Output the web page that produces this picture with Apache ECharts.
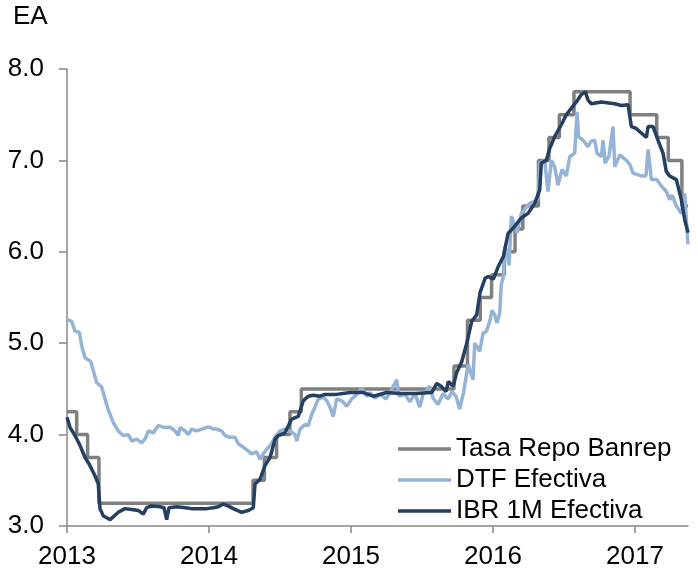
<!DOCTYPE html>
<html>
<head>
<meta charset="utf-8">
<script src="https://cdn.jsdelivr.net/npm/echarts@6/dist/echarts.min.js"></script>
<style>
html,body{margin:0;padding:0;background:#fff;}
#c{width:698px;height:570px;}
</style>
</head>
<body>
<div id="c"></div>
<script>
// x values are decimal years
const yearTicks = [2013, 2014, 2015, 2016, 2017];
const seriesNames = ['Tasa Repo Banrep', 'DTF Efectiva', 'IBR 1M Efectiva'];

const repoT = [2013.0, 2013.068, 2013.145, 2013.225, 2014.31, 2014.39, 2014.476, 2014.57, 2014.65,
  2015.725, 2015.82, 2015.91, 2015.99, 2016.08, 2016.155, 2016.21, 2016.32, 2016.394, 2016.467,
  2016.57, 2016.965, 2017.153, 2017.234, 2017.33, 2017.373];
const repoV = [4.25, 4.00, 3.75, 3.25, 3.50, 3.75, 4.00, 4.25, 4.50,
  4.75, 5.25, 5.50, 5.75, 6.00, 6.25, 6.50, 7.00, 7.25, 7.50,
  7.75, 7.50, 7.25, 7.00, 6.50, 6.50];

const dtfT = [2013.0, 2013.033, 2013.056, 2013.087, 2013.104, 2013.127, 2013.167, 2013.185, 2013.209, 2013.244,
  2013.268, 2013.289, 2013.326, 2013.361, 2013.396, 2013.432, 2013.456, 2013.491, 2013.526, 2013.549,
  2013.573, 2013.608, 2013.643, 2013.678, 2013.725, 2013.761, 2013.784, 2013.796, 2013.831, 2013.854,
  2013.878, 2013.913, 2013.949, 2013.984, 2014.007, 2014.030, 2014.054, 2014.089, 2014.113, 2014.148,
  2014.183, 2014.206, 2014.242, 2014.277, 2014.301, 2014.336, 2014.359, 2014.382, 2014.406, 2014.430,
  2014.465, 2014.500, 2014.535, 2014.570, 2014.606, 2014.618, 2014.641, 2014.676, 2014.699, 2014.723,
  2014.746, 2014.770, 2014.805, 2014.829, 2014.852, 2014.875, 2014.899, 2014.935, 2014.970, 2015.005,
  2015.040, 2015.075, 2015.111, 2015.134, 2015.169, 2015.204, 2015.246, 2015.275, 2015.322, 2015.338,
  2015.380, 2015.415, 2015.451, 2015.484, 2015.507, 2015.554, 2015.577, 2015.613, 2015.648, 2015.683,
  2015.711, 2015.739, 2015.765, 2015.792, 2015.825, 2015.859, 2015.871, 2015.906, 2015.930, 2015.953,
  2015.977, 2015.993, 2016.012, 2016.028, 2016.047, 2016.058, 2016.073, 2016.082, 2016.099, 2016.113,
  2016.129, 2016.148, 2016.169, 2016.199, 2016.258, 2016.289, 2016.317, 2016.329, 2016.364, 2016.387,
  2016.411, 2016.434, 2016.458, 2016.486, 2016.516, 2016.540, 2016.575, 2016.592, 2016.602, 2016.634,
  2016.669, 2016.690, 2016.716, 2016.732, 2016.763, 2016.775, 2016.789, 2016.817, 2016.845, 2016.857,
  2016.892, 2016.939, 2016.965, 2016.986, 2017.044, 2017.077, 2017.092, 2017.115, 2017.153, 2017.185,
  2017.220, 2017.244, 2017.261, 2017.291, 2017.326, 2017.350, 2017.359, 2017.373];
const dtfV = [5.26, 5.24, 5.13, 5.12, 4.97, 4.84, 4.80, 4.70, 4.57, 4.52,
  4.39, 4.28, 4.13, 4.04, 3.99, 4.00, 3.93, 3.95, 3.91, 3.95,
  4.04, 4.02, 4.10, 4.08, 4.08, 4.04, 3.99, 4.08, 4.04, 4.00,
  4.06, 4.04, 4.06, 4.08, 4.08, 4.06, 4.06, 4.04, 3.99, 3.97,
  3.97, 3.90, 3.86, 3.82, 3.79, 3.81, 3.73, 3.79, 3.84, 3.88,
  3.97, 4.04, 4.06, 4.04, 4.00, 3.93, 4.06, 4.11, 4.10, 4.22,
  4.30, 4.39, 4.41, 4.37, 4.30, 4.20, 4.39, 4.37, 4.31, 4.39,
  4.44, 4.51, 4.42, 4.46, 4.40, 4.44, 4.39, 4.46, 4.60, 4.42,
  4.44, 4.36, 4.45, 4.30, 4.44, 4.53, 4.40, 4.33, 4.45, 4.39,
  4.47, 4.42, 4.28, 4.46, 4.77, 4.60, 5.00, 4.91, 5.11, 5.13,
  5.24, 5.36, 5.31, 5.22, 5.33, 5.64, 5.73, 6.06, 6.00, 5.85,
  6.39, 6.30, 6.21, 6.42, 6.53, 6.55, 6.57, 6.97, 7.00, 6.66,
  7.00, 6.93, 6.73, 6.90, 6.83, 7.04, 7.08, 7.53, 7.26, 7.22,
  7.15, 7.21, 7.22, 7.08, 7.04, 7.22, 6.97, 7.05, 7.37, 6.93,
  7.06, 7.00, 6.95, 6.86, 6.83, 6.83, 7.12, 6.79, 6.79, 6.72,
  6.66, 6.57, 6.62, 6.50, 6.42, 6.64, 6.40, 6.08];

const ibrT = [2013.0, 2013.021, 2013.056, 2013.092, 2013.127, 2013.162, 2013.197, 2013.220, 2013.232, 2013.256,
  2013.280, 2013.303, 2013.326, 2013.361, 2013.408, 2013.456, 2013.502, 2013.537, 2013.561, 2013.596,
  2013.655, 2013.683, 2013.702, 2013.718, 2013.773, 2013.831, 2013.878, 2013.937, 2013.984, 2014.030,
  2014.066, 2014.101, 2014.134, 2014.171, 2014.230, 2014.277, 2014.312, 2014.324, 2014.359, 2014.394,
  2014.430, 2014.465, 2014.488, 2014.535, 2014.582, 2014.629, 2014.664, 2014.699, 2014.734, 2014.782,
  2014.817, 2014.899, 2014.993, 2015.087, 2015.157, 2015.251, 2015.345, 2015.451, 2015.568, 2015.604,
  2015.634, 2015.669, 2015.685, 2015.720, 2015.744, 2015.780, 2015.815, 2015.850, 2015.885, 2015.908,
  2015.944, 2015.967, 2016.002, 2016.037, 2016.073, 2016.106, 2016.153, 2016.199, 2016.246, 2016.294,
  2016.329, 2016.340, 2016.375, 2016.399, 2016.434, 2016.481, 2016.516, 2016.551, 2016.587, 2016.622,
  2016.650, 2016.669, 2016.692, 2016.763, 2016.857, 2016.904, 2016.951, 2016.974, 2017.007, 2017.044,
  2017.080, 2017.092, 2017.127, 2017.162, 2017.197, 2017.220, 2017.244, 2017.291, 2017.326, 2017.350,
  2017.373];
const ibrV = [4.19, 4.08, 3.99, 3.88, 3.75, 3.66, 3.55, 3.46, 3.19, 3.11,
  3.09, 3.07, 3.10, 3.15, 3.19, 3.18, 3.17, 3.13, 3.20, 3.22,
  3.21, 3.20, 3.07, 3.20, 3.21, 3.20, 3.19, 3.19, 3.19, 3.20,
  3.21, 3.24, 3.22, 3.19, 3.15, 3.17, 3.20, 3.46, 3.51, 3.66,
  3.75, 3.95, 3.99, 4.02, 4.17, 4.20, 4.37, 4.42, 4.43, 4.42,
  4.44, 4.44, 4.46, 4.46, 4.42, 4.46, 4.45, 4.45, 4.46, 4.56,
  4.53, 4.47, 4.58, 4.53, 4.68, 4.80, 5.00, 5.24, 5.31, 5.55,
  5.71, 5.73, 5.70, 5.84, 5.95, 6.20, 6.28, 6.37, 6.42, 6.53,
  6.68, 6.97, 7.00, 7.13, 7.26, 7.39, 7.50, 7.57, 7.64, 7.72,
  7.75, 7.66, 7.62, 7.64, 7.62, 7.60, 7.61, 7.37, 7.35, 7.30,
  7.25, 7.37, 7.37, 7.22, 7.08, 6.88, 6.83, 6.79, 6.57, 6.35,
  6.21];

const zip = (t, v) => t.map((x, i) => [x, v[i]]);
const FONT = '"Liberation Sans", Arial, sans-serif';

const chart = echarts.init(document.getElementById('c'), null, {renderer: 'canvas'});
chart.setOption({
  animation: false,
  backgroundColor: '#ffffff',
  textStyle: {fontFamily: FONT},
  title: {
    text: 'EA', left: 8, top: -1,
    textStyle: {fontFamily: FONT, fontSize: 26, fontWeight: 'normal', color: '#000'}
  },
  grid: {left: 67, right: 10, top: 69, bottom: 43},
  legend: {
    orient: 'vertical', left: 393, top: 431,
    itemWidth: 53, itemHeight: 3.5, itemGap: 5, icon: 'rect',
    data: seriesNames,
    textStyle: {fontFamily: FONT, fontSize: 26, lineHeight: 26, color: '#000'}
  },
  xAxis: {
    type: 'value', min: 2013, max: 2017.373, interval: 1,
    axisLine: {show: true, lineStyle: {color: '#888888', width: 1.5}},
    axisTick: {show: true, length: 7, customValues: yearTicks, lineStyle: {color: '#888888', width: 1.5}},
    axisLabel: {customValues: yearTicks, margin: 18, fontSize: 26, color: '#000', fontFamily: FONT,
      formatter: v => String(Math.round(v))},
    splitLine: {show: false}
  },
  yAxis: {
    type: 'value', min: 3, max: 8, interval: 1,
    axisLine: {show: true, lineStyle: {color: '#888888', width: 1.5}},
    axisTick: {show: true, length: 8, lineStyle: {color: '#888888', width: 1.5}},
    axisLabel: {margin: 23, fontSize: 26, color: '#000', fontFamily: FONT, formatter: v => v.toFixed(1)},
    splitLine: {show: false}
  },
  series: [
    {name: seriesNames[0], type: 'line', step: 'end', showSymbol: false, symbol: 'none',
     data: zip(repoT, repoV), lineStyle: {color: '#808080', width: 3.5}, itemStyle: {color: '#808080'}, z: 1},
    {name: seriesNames[1], type: 'line', showSymbol: false, symbol: 'none',
     data: zip(dtfT, dtfV), lineStyle: {color: '#95B3D7', width: 3.5}, itemStyle: {color: '#95B3D7'}, z: 2},
    {name: seriesNames[2], type: 'line', showSymbol: false, symbol: 'none',
     data: zip(ibrT, ibrV), lineStyle: {color: '#243F60', width: 3.5}, itemStyle: {color: '#243F60'}, z: 3}
  ]
});
</script>
</body>
</html>
